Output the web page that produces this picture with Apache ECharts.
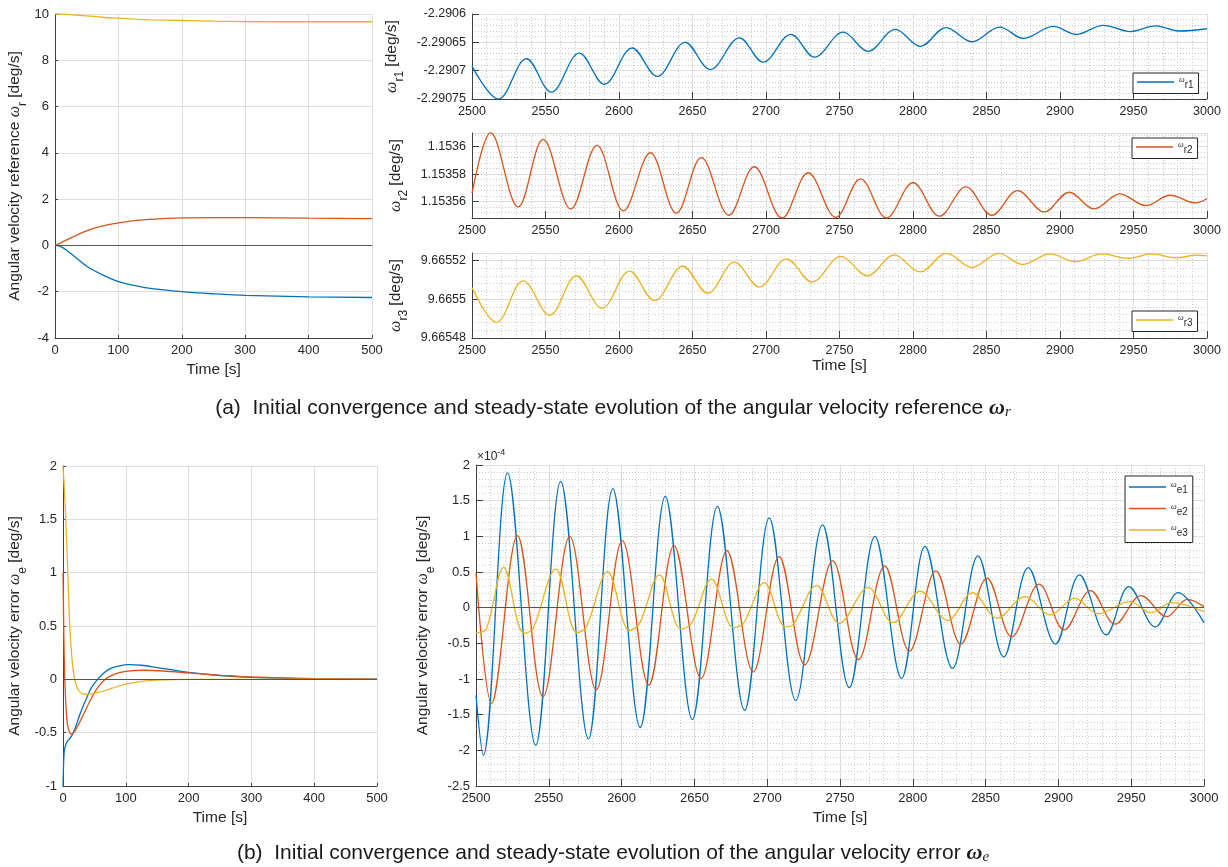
<!DOCTYPE html>
<html>
<head>
<meta charset="utf-8">
<title>Angular velocity reference / error</title>
<script src="https://cdn.jsdelivr.net/npm/echarts@6/dist/echarts.min.js"></script>
<style>
html, body { margin: 0; padding: 0; background: #fff; }
#main { width: 1228px; height: 867px; }
</style>
</head>
<body>
<div id="main"></div>
<script>
// ---- values ----

// (a) left: initial convergence of omega_r, 0..500 s
var tRefInit = [0, 10, 25, 50, 75, 100, 125, 150, 200, 250, 300, 400, 500];
var wr1Init = [0, -0.06, -0.35, -0.9, -1.27, -1.56, -1.73, -1.86, -2.0, -2.09, -2.16, -2.22, -2.25];
var wr2Init = [0, 0.12, 0.33, 0.63, 0.84, 0.97, 1.07, 1.13, 1.19, 1.2, 1.2, 1.18, 1.16];
var wr3Init = [10.0, 10.0, 9.97, 9.92, 9.86, 9.82, 9.78, 9.75, 9.72, 9.69, 9.67, 9.665, 9.665];

// (a) right: steady state, 2500..3000 s (extrema)
var tR1 = [2500, 2518, 2537, 2554, 2573, 2590, 2609, 2626, 2645, 2662, 2682, 2698, 2717, 2733, 2752.5, 2769.5, 2788, 2805, 2822.5, 2840, 2859, 2875, 2895.5, 2911, 2929.5, 2948, 2965, 2981, 3000];
var vR1 = [-2.290692, -2.29075, -2.290679, -2.290738, -2.290669, -2.290724, -2.29066, -2.29071, -2.29065, -2.290698, -2.290642, -2.290685, -2.290636, -2.290676, -2.290632, -2.290666, -2.290627, -2.290657, -2.290624, -2.290649, -2.290623, -2.290643, -2.290622, -2.290636, -2.29062, -2.290631, -2.290621, -2.29063, -2.290626];

var tR2 = [2500, 2512.7, 2531.4, 2548.4, 2567.2, 2585, 2603, 2621.3, 2639, 2656, 2674.7, 2692, 2710.9, 2728.7, 2747.5, 2764.3, 2782, 2800, 2818, 2836, 2853.7, 2871.2, 2889.3, 2906.3, 2923.3, 2940.7, 2958.4, 2975, 2992.3, 3000];
var vR2 = [1.1535659, 1.1536102, 1.1535561, 1.1536054, 1.1535546, 1.153601, 1.1535532, 1.1535956, 1.1535515, 1.153592, 1.15355, 1.1535854, 1.153548, 1.153581, 1.1535485, 1.1535766, 1.153548, 1.1535737, 1.1535493, 1.1535707, 1.15355, 1.153568, 1.1535524, 1.1535668, 1.1535546, 1.1535656, 1.1535571, 1.1535646, 1.153559, 1.1535622];

var tR3 = [2500, 2516.7, 2534.8, 2552.9, 2571, 2588.5, 2607.2, 2624.2, 2643.4, 2660.4, 2678.5, 2695.5, 2714, 2731.3, 2751, 2769, 2787.3, 2804.8, 2822.9, 2840, 2858.5, 2874.6, 2893.2, 2910.6, 2928.3, 2946.4, 2962.3, 2979.2, 2992.7, 3000];
var vR3 = [9.665506, 9.665488, 9.6655094, 9.6654917, 9.665512, 9.6654953, 9.6655144, 9.6654992, 9.6655169, 9.665503, 9.665519, 9.6655062, 9.6655207, 9.6655088, 9.665522, 9.665512, 9.6655227, 9.665514, 9.6655235, 9.6655163, 9.6655235, 9.6655178, 9.6655232, 9.6655193, 9.6655232, 9.665521, 9.6655232, 9.6655212, 9.6655226, 9.6655222];

// (b) left: initial convergence of omega_e, 0..500 s
var tE1Init = [0, 1, 2, 4, 7, 10, 15, 20, 25, 30, 38, 45, 55, 65, 75, 90, 105, 125, 150, 200, 250, 300, 400, 500];
var we1Init = [-1.0, -0.78, -0.68, -0.62, -0.58, -0.56, -0.52, -0.45, -0.36, -0.28, -0.17, -0.08, 0.0, 0.06, 0.1, 0.127, 0.137, 0.132, 0.11, 0.065, 0.036, 0.019, 0.005, 0.001];
var tE2Init = [0, 1, 2, 3, 5, 7, 10, 13, 17, 25, 35, 45, 55, 65, 80, 100, 130, 160, 200, 250, 300, 400, 500];
var we2Init = [1.0, 0.55, 0.2, -0.02, -0.28, -0.42, -0.49, -0.515, -0.5, -0.42, -0.3, -0.18, -0.08, -0.01, 0.045, 0.075, 0.085, 0.078, 0.06, 0.038, 0.022, 0.007, 0.002];
var tE3Init = [0, 2, 4, 6, 8, 10, 12, 15, 18, 22, 27, 35, 45, 55, 70, 85, 100, 125, 150, 200, 300, 500];
var we3Init = [2.0, 1.8, 1.55, 1.25, 0.95, 0.6, 0.38, 0.15, 0.02, -0.07, -0.12, -0.14, -0.137, -0.125, -0.1, -0.07, -0.045, -0.02, -0.008, 0, 0, 0];

// (b) right: steady state, 2500..3000 s, in units of 1e-4 deg/s
var tE1 = [2500, 2505, 2521.7, 2541, 2558.2, 2577.2, 2594, 2612.8, 2630, 2648.6, 2665.8, 2684.5, 2701.4, 2719.6, 2738, 2756.4, 2774, 2792.3, 2808.4, 2827.3, 2844.8, 2862.5, 2879.3, 2898, 2914.5, 2932.9, 2948.4, 2966.6, 2982.3, 3000];
var vE1 = [-1.23, -2.07, 1.89, -1.93, 1.77, -1.84, 1.67, -1.68, 1.56, -1.57, 1.42, -1.44, 1.26, -1.30, 1.16, -1.12, 1.0, -0.99, 0.86, -0.85, 0.725, -0.69, 0.56, -0.51, 0.46, -0.38, 0.295, -0.27, 0.21, -0.21];
var tE2 = [2500, 2510.7, 2528.5, 2546, 2564.4, 2582.6, 2600.5, 2618.7, 2636, 2654.6, 2672.4, 2690.4, 2708.2, 2725.8, 2745, 2762.7, 2780.7, 2797.7, 2815.9, 2833, 2851, 2868, 2886.8, 2904, 2922, 2939, 2956.8, 2974.5, 2988.6, 3000];
var vE2 = [0.49, -1.34, 1.01, -1.25, 1.0, -1.15, 0.94, -1.085, 0.87, -0.99, 0.80, -0.90, 0.715, -0.80, 0.655, -0.73, 0.585, -0.61, 0.515, -0.51, 0.415, -0.41, 0.33, -0.31, 0.24, -0.23, 0.17, -0.125, 0.117, 0.014];
var tE3 = [2500, 2507, 2519, 2533, 2539, 2554.8, 2569.4, 2575.8, 2590.4, 2605.5, 2612.3, 2626, 2640.9, 2648, 2661.8, 2676.9, 2684, 2698, 2712.6, 2718, 2734, 2749.5, 2769.3, 2786.4, 2805, 2824, 2841, 2858, 2877, 2894.3, 2911.4, 2927.3, 2949, 2963.6, 2977.7, 3000];
var vE3 = [-0.35, -0.3, 0.565, -0.36, -0.30, 0.54, -0.35, -0.27, 0.505, -0.32, -0.22, 0.46, -0.30, -0.22, 0.40, -0.28, -0.21, 0.35, -0.27, -0.23, 0.31, -0.22, 0.28, -0.21, 0.23, -0.18, 0.21, -0.145, 0.155, -0.10, 0.13, -0.085, 0.085, -0.07, 0.07, -0.056];

// ---- styling ----
var FONT = 'Liberation Sans, Arial, Helvetica, sans-serif';
var TXT = '#262626';
var AXIS_COLOR = '#404040';
var GRID_COLOR = '#dedede';
var MINOR_COLOR = '#c9c9c9';
var BLUE = '#0072BD', RED = '#D95319', YEL = '#EDB120';

function pairs(t, v) {
    var out = [];
    for (var i = 0; i < t.length; i++) {
        out.push([t[i], v[i]]);
    }
    return out;
}

function numLabel(v) {
    return String(+v.toFixed(7));
}

function nameRich() {
    return {
        w: { fontFamily: 'Liberation Serif, DejaVu Serif, serif', fontStyle: 'italic', fontSize: 16, color: TXT },
        s: { fontFamily: FONT, fontSize: 12, color: TXT, padding: [16, 0, 0, 0] }
    };
}

function axisBase(grid, o) {
    var ax = {
        type: 'value', gridIndex: grid,
        min: o.min, max: o.max,
        name: o.name || '', nameLocation: 'middle', nameGap: o.gap || 0,
        nameTextStyle: { fontFamily: FONT, fontSize: 15.5, color: TXT, rich: nameRich() },
        axisLine: { show: true, onZero: false, lineStyle: { color: AXIS_COLOR, width: 1 } },
        axisTick: { show: true, inside: true, length: o.tick || 4, lineStyle: { color: AXIS_COLOR, width: 1 } },
        axisLabel: {
            fontFamily: FONT, fontSize: o.fs || 13, color: TXT, margin: 6,
            formatter: numLabel,
            showMinLabel: o.hideMin ? false : true,
            showMaxLabel: o.hideMax ? false : true
        },
        splitLine: { show: true, lineStyle: { color: GRID_COLOR, width: 1 } },
        minorTick: { show: false, splitNumber: 5 },
        minorSplitLine: { show: !!o.minor, lineStyle: { color: MINOR_COLOR, width: 1, type: [1, 2] } }
    };
    if (o.interval != null) ax.interval = o.interval;
    if (o.split != null) ax.splitNumber = o.split;
    return ax;
}

function line(name, xi, yi, t, v, color, smooth) {
    return {
        type: 'line', name: name, xAxisIndex: xi, yAxisIndex: yi,
        data: pairs(t, v), symbol: 'none', showSymbol: false,
        smooth: smooth, lineStyle: { color: color, width: 1.3 },
        itemStyle: { color: color }, z: 3
    };
}

var zeroLine = {
    silent: true, symbol: ['none', 'none'], label: { show: false },
    lineStyle: { color: '#555', type: 'solid', width: 1 },
    emphasis: { disabled: true },
    data: [{ yAxis: 0 }]
};

function legendFmt(name) {
    return '{w|ω}{s|' + name.slice(1) + '}';
}

function legendBox(o) {
    return {
        orient: 'vertical', left: o.left, top: o.top, data: o.data,
        backgroundColor: '#fff', borderColor: '#262626', borderWidth: 1, borderRadius: 0,
        padding: o.padding || [3, 5, 3, 4], itemWidth: 37, itemHeight: 1.6, itemGap: 7,
        icon: 'rect',
        selectedMode: false, formatter: legendFmt,
        textStyle: {
            fontFamily: FONT, fontSize: 10, color: TXT,
            rich: {
                w: { fontFamily: 'Liberation Serif, serif', fontStyle: 'italic', fontSize: 8, color: TXT, padding: [0, 0, 4, 0] },
                s: { fontFamily: FONT, fontSize: 10, color: TXT, padding: [7, 0, 0, 0] }
            }
        }
    };
}

function caption(text, y) {
    var serif = 'Liberation Serif, DejaVu Serif, serif';
    return {
        type: 'text', x: 613, y: y,
        style: {
            text: text, fontFamily: FONT, fontSize: 21, fill: '#1a1a1a',
            align: 'center', textAlign: 'center', verticalAlign: 'middle', textVerticalAlign: 'middle',
            rich: {
                w: { fontFamily: serif, fontStyle: 'italic', fontWeight: 'bold', fontSize: 22, fill: '#1a1a1a' },
                s: { fontFamily: serif, fontStyle: 'italic', fontSize: 15, fill: '#1a1a1a', padding: [9, 0, 0, 0] }
            }
        }
    };
}

var myChart = echarts.init(document.getElementById('main'), null, { renderer: 'canvas' });

var option = {
    backgroundColor: '#fff',
    animation: false,
    grid: [
        { left: 55, top: 14, width: 317, height: 324, containLabel: false, outerBoundsMode: 'none' },
        { left: 472, top: 14, width: 735, height: 85, containLabel: false, outerBoundsMode: 'none' },
        { left: 472, top: 133, width: 735, height: 85, containLabel: false, outerBoundsMode: 'none' },
        { left: 472, top: 253, width: 735, height: 85, containLabel: false, outerBoundsMode: 'none' },
        { left: 63, top: 466, width: 314, height: 320, containLabel: false, outerBoundsMode: 'none' },
        { left: 476, top: 465, width: 728, height: 321, containLabel: false, outerBoundsMode: 'none' }
    ],
    xAxis: [
        axisBase(0, { min: 0, max: 500, interval: 100, name: 'Time [s]', gap: 24, tick: 3 }),
        axisBase(1, { min: 2500, max: 3000, interval: 50, fs: 12.5, minor: true, tick: 7 }),
        axisBase(2, { min: 2500, max: 3000, interval: 50, fs: 12.5, minor: true, tick: 7 }),
        axisBase(3, { min: 2500, max: 3000, interval: 50, fs: 12.5, minor: true, tick: 7, name: 'Time [s]', gap: 20 }),
        axisBase(4, { min: 0, max: 500, interval: 100, name: 'Time [s]', gap: 24, tick: 3 }),
        axisBase(5, { min: 2500, max: 3000, interval: 50, minor: true, tick: 7, name: 'Time [s]', gap: 24 })
    ],
    yAxis: [
        axisBase(0, { min: -4, max: 10, interval: 2, tick: 3, gap: 26,
            name: 'Angular velocity reference {w|ω}{s|r} [deg/s]' }),
        axisBase(1, { min: -2.29075, max: -2.2906, interval: 0.00005, fs: 12.5, minor: true, tick: 7, gap: 46,
            name: '{w|ω}{s|r1} [deg/s]' }),
        axisBase(2, { min: 1.153548, max: 1.15361, split: 3, fs: 12.5, minor: true, tick: 7, gap: 46,
            hideMin: true, hideMax: true, name: '{w|ω}{s|r2} [deg/s]' }),
        axisBase(3, { min: 9.66548, max: 9.6655237, interval: 0.00002, fs: 12.5, minor: true, tick: 7, gap: 46,
            hideMax: true, name: '{w|ω}{s|r3} [deg/s]' }),
        axisBase(4, { min: -1, max: 2, interval: 0.5, tick: 3, gap: 34,
            name: 'Angular velocity error {w|ω}{s|e} [deg/s]' }),
        axisBase(5, { min: -2.5, max: 2, interval: 0.5, minor: true, tick: 7, gap: 32,
            name: 'Angular velocity error {w|ω}{s|e} [deg/s]' })
    ],
    legend: [
        legendBox({ left: 1133, top: 73, data: ['ωr1'] }),
        legendBox({ left: 1132, top: 138, data: ['ωr2'] }),
        legendBox({ left: 1132, top: 311, data: ['ωr3'] }),
        legendBox({ left: 1125, top: 476, data: ['ωe1', 'ωe2', 'ωe3'], padding: [5, 5, 4, 4] })
    ],
    series: [
        (function () { var s = line('init r1', 0, 0, tRefInit, wr1Init, BLUE, 0.3); s.markLine = zeroLine; return s; })(),
        line('init r2', 0, 0, tRefInit, wr2Init, RED, 0.3),
        line('init r3', 0, 0, tRefInit, wr3Init, YEL, 0.3),

        line('ωr1', 1, 1, tR1, vR1, BLUE, 0.36),
        line('ωr2', 2, 2, tR2, vR2, RED, 0.36),
        line('ωr3', 3, 3, tR3, vR3, YEL, 0.36),

        (function () { var s = line('init e1', 4, 4, tE1Init, we1Init, BLUE, 0.3); s.markLine = zeroLine; return s; })(),
        line('init e2', 4, 4, tE2Init, we2Init, RED, 0.3),
        line('init e3', 4, 4, tE3Init, we3Init, YEL, 0.3),

        (function () { var s = line('ωe1', 5, 5, tE1, vE1, BLUE, 0.36); s.markLine = zeroLine; return s; })(),
        line('ωe2', 5, 5, tE2, vE2, RED, 0.36),
        line('ωe3', 5, 5, tE3, vE3, YEL, 0.36)
    ],
    graphic: [
        {
            type: 'text', x: 477, y: 457,
            style: {
                text: '×10{sup|-4}', fontFamily: FONT, fontSize: 12, fill: TXT,
                align: 'left', textAlign: 'left', verticalAlign: 'middle', textVerticalAlign: 'middle',
                rich: { sup: { fontFamily: FONT, fontSize: 9, fill: TXT, padding: [0, 0, 8, 0] } }
            }
        },
        caption('(a)  Initial convergence and steady-state evolution of the angular velocity reference {w|ω}{s|r}', 408),
        caption('(b)  Initial convergence and steady-state evolution of the angular velocity error {w|ω}{s|e}', 853)
    ]
};

myChart.setOption(option);
</script>
</body>
</html>
